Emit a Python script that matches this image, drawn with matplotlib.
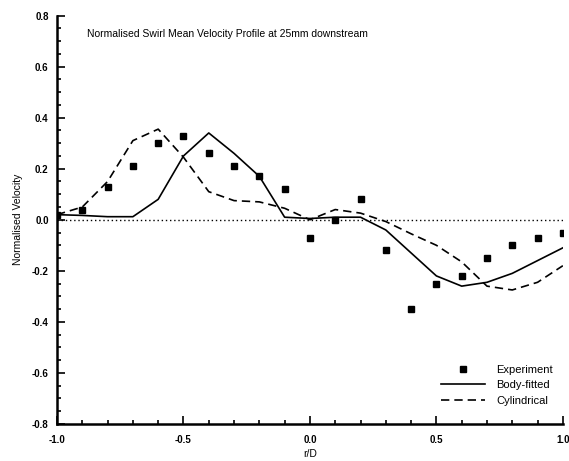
import matplotlib
matplotlib.use("Agg")
import matplotlib.pyplot as plt
from matplotlib.ticker import MultipleLocator, FormatStrFormatter

# data
r_exp = [-1.0, -0.9, -0.8, -0.7, -0.6, -0.5, -0.4, -0.3, -0.2, -0.1, 0.0,
         0.1, 0.2, 0.3, 0.4, 0.5, 0.6, 0.7, 0.8, 0.9, 1.0]
v_exp = [0.02, 0.04, 0.13, 0.21, 0.30, 0.33, 0.26, 0.21, 0.17, 0.12, -0.07,
         0.0, 0.08, -0.12, -0.35, -0.25, -0.22, -0.15, -0.10, -0.07, -0.05]

r_sim = [-1.0, -0.9, -0.8, -0.7, -0.6, -0.5, -0.4, -0.3, -0.2, -0.1, 0.0,
         0.1, 0.2, 0.3, 0.4, 0.5, 0.6, 0.7, 0.8, 0.9, 1.0]
v_body = [0.02, 0.017, 0.012, 0.012, 0.08, 0.25, 0.34, 0.26, 0.17, 0.01, 0.005,
          0.01, 0.01, -0.04, -0.13, -0.22, -0.26, -0.245, -0.21, -0.16, -0.11]
v_cyl = [0.02, 0.05, 0.15, 0.31, 0.355, 0.245, 0.11, 0.075, 0.07, 0.045, 0.0,
         0.04, 0.026, -0.007, -0.055, -0.10, -0.165, -0.26, -0.275, -0.245, -0.18]

plt.rcParams['font.family'] = ['Liberation Sans', 'DejaVu Sans']

fig = plt.figure(figsize=(5.69, 4.61), dpi=100)
ax = fig.add_axes([0.1002, 0.0803, 0.889, 0.886])

ax.axhline(0, color='black', lw=1.0, ls=(0, (1, 2)), zorder=1)
ax.plot(r_exp, v_exp, 's', color='black', ms=3.8, ls='none', label='Experiment')
ax.plot(r_sim, v_body, '-', color='black', lw=1.2, label='Body-fitted')
ax.plot(r_sim, v_cyl, '--', color='black', lw=1.2, dashes=(5, 3), label='Cylindrical')

ax.set_xlim(-1.0, 1.0)
ax.set_ylim(-0.8, 0.8)
ax.xaxis.set_major_locator(MultipleLocator(0.5))
ax.xaxis.set_minor_locator(MultipleLocator(0.1))
ax.yaxis.set_major_locator(MultipleLocator(0.2))
ax.yaxis.set_minor_locator(MultipleLocator(0.05))
ax.xaxis.set_major_formatter(FormatStrFormatter('%.1f'))
ax.yaxis.set_major_formatter(FormatStrFormatter('%.1f'))
ax.tick_params(which='both', direction='in', width=1.2, labelsize=7)
ax.tick_params(axis='y', pad=6)
ax.tick_params(axis='x', pad=8)
ax.tick_params(which='major', length=6)
ax.tick_params(which='minor', length=3)
for lab in ax.get_xticklabels() + ax.get_yticklabels():
    lab.set_fontweight('bold')

for s in ['top', 'right']:
    ax.spines[s].set_visible(False)
for s in ['left', 'bottom']:
    ax.spines[s].set_linewidth(1.8)

ax.text(0.06, 0.955, 'Normalised Swirl Mean Velocity Profile at 25mm downstream',
        transform=ax.transAxes, fontsize=7.5, va='center', ha='left')
ax.set_xlabel('r/D', fontsize=7.5, labelpad=3)
ax.set_ylabel('Normalised Velocity', fontsize=7.5, labelpad=6)

ax.legend(loc='lower right', bbox_to_anchor=(1.0, 0.02), frameon=False,
          fontsize=8, handlelength=4.0, handletextpad=1.0, labelspacing=0.5)

fig.savefig('out.png', dpi=100)
